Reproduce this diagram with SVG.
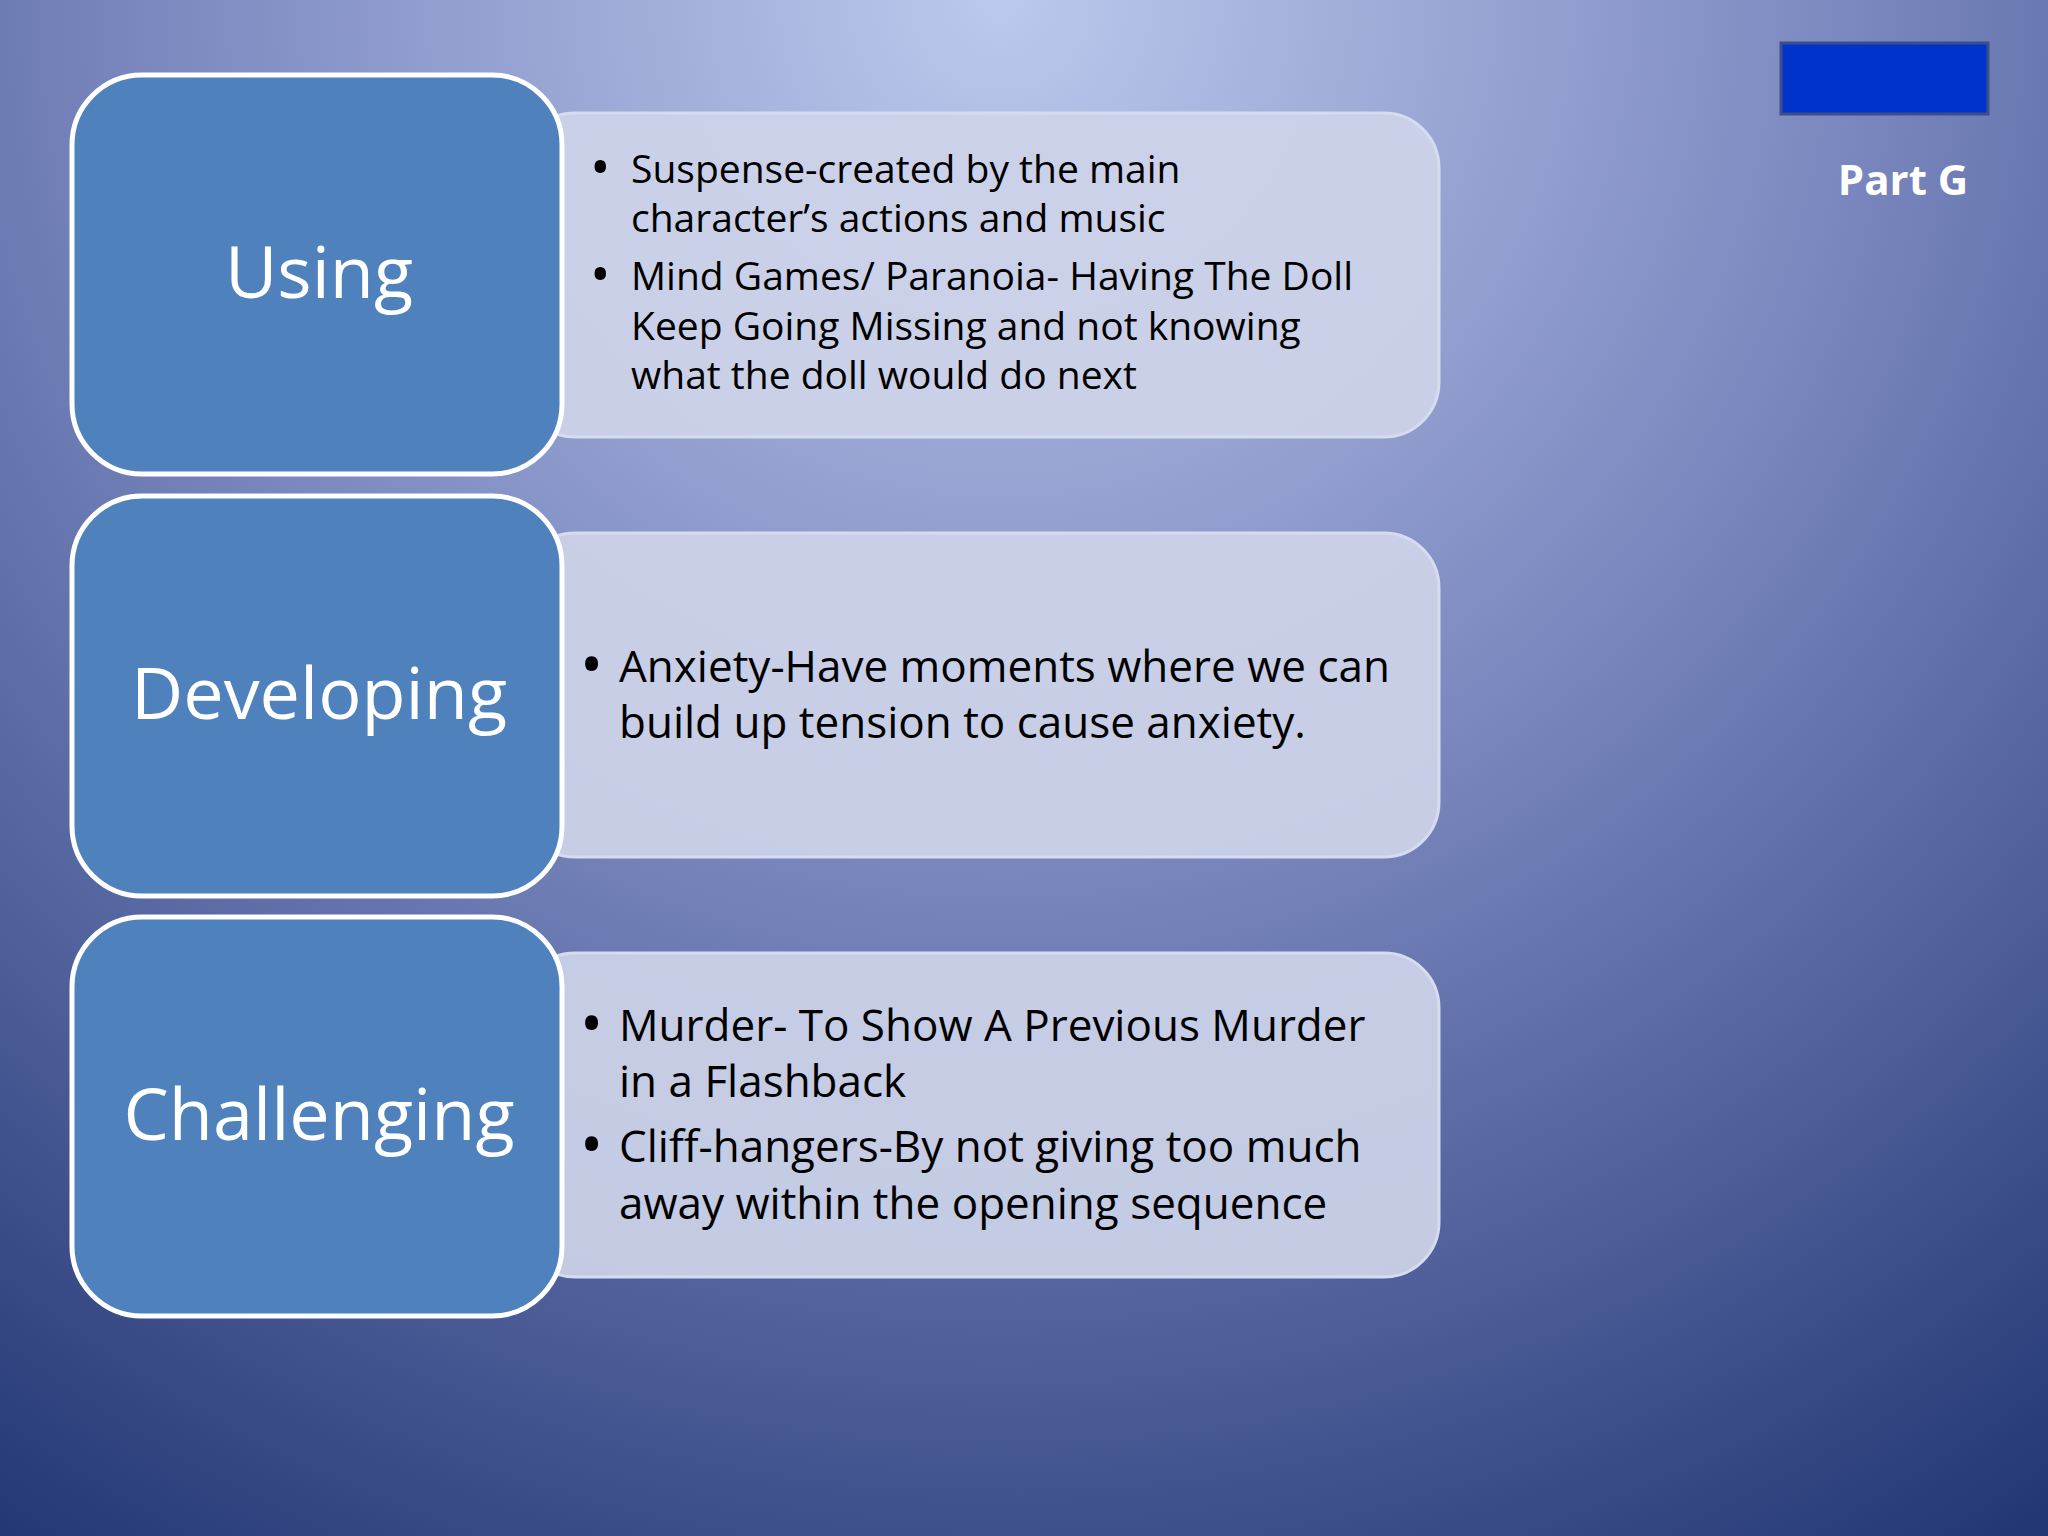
<svg xmlns="http://www.w3.org/2000/svg" width="2048" height="1536" viewBox="0 0 2048 1536">
<defs>
<radialGradient id="bg" cx="1000" cy="0" r="1900" gradientUnits="userSpaceOnUse">
<stop offset="0" stop-color="#bcc8ec"/>
<stop offset="0.45" stop-color="#7b88bf"/>
<stop offset="1" stop-color="#1d3270"/>
</radialGradient>
<style>
.lb{fill:#4f81bd;stroke:#fff;stroke-width:5}
.rb{fill:#ccd3e8;fill-opacity:0.93;stroke:#d6dcef;stroke-width:3}
.h{font-family:"Open Sans","Liberation Sans",sans-serif;fill:#fff;font-size:72px;text-anchor:middle}
.t1{font-family:"Open Sans","Liberation Sans",sans-serif;fill:#000;font-size:39px}
.t2{font-family:"Open Sans","Liberation Sans",sans-serif;fill:#000;font-size:44px}
.b{font-size:1.4em}
</style>
</defs>
<rect width="2048" height="1536" fill="url(#bg)"/>
<rect x="1781" y="43" width="207" height="71" fill="#0033cc" stroke="#3a4f8a" stroke-width="3"/>
<text x="1903" y="195" font-family="Open Sans,Liberation Sans,sans-serif" font-weight="bold" font-size="42" fill="#fff" text-anchor="middle">Part G</text>
<g id="r1"><rect class="rb" x="520" y="113" width="919" height="324" rx="55"/>
<text class="t1"><tspan class="b" x="590" y="187">•</tspan><tspan x="631" y="183">Suspense-created by the main</tspan><tspan x="631" y="232">character’s actions and music</tspan><tspan class="b" x="590" y="294">•</tspan><tspan x="631" y="290">Mind Games/ Paranoia- Having The Doll</tspan><tspan x="631" y="340">Keep Going Missing and not knowing</tspan><tspan x="631" y="389">what the doll would do next</tspan></text></g>
<g id="r2"><rect class="rb" x="520" y="533" width="919" height="324" rx="55"/>
<text class="t2"><tspan class="b" x="580" y="686">•</tspan><tspan x="619" y="682">Anxiety-Have moments where we can</tspan><tspan x="619" y="738">build up tension to cause anxiety.</tspan></text></g>
<g id="r3"><rect class="rb" x="520" y="953" width="919" height="324" rx="55"/>
<text class="t2"><tspan class="b" x="580" y="1045">•</tspan><tspan x="619" y="1041">Murder- To Show A Previous Murder</tspan><tspan x="619" y="1097">in a Flashback</tspan><tspan class="b" x="580" y="1166">•</tspan><tspan x="619" y="1162">Cliff-hangers-By not giving too much</tspan><tspan x="619" y="1219">away within the opening sequence</tspan></text></g>
<g id="l1"><rect class="lb" x="72" y="75" width="490" height="399" rx="70"/><text class="h" x="319" y="298">Using</text></g>
<g id="l2"><rect class="lb" x="72" y="496" width="490" height="400" rx="70"/><text class="h" x="319" y="719">Developing</text></g>
<g id="l3"><rect class="lb" x="72" y="917" width="490" height="399" rx="70"/><text class="h" x="319" y="1140">Challenging</text></g>
<g id="connectors"/>
</svg>
